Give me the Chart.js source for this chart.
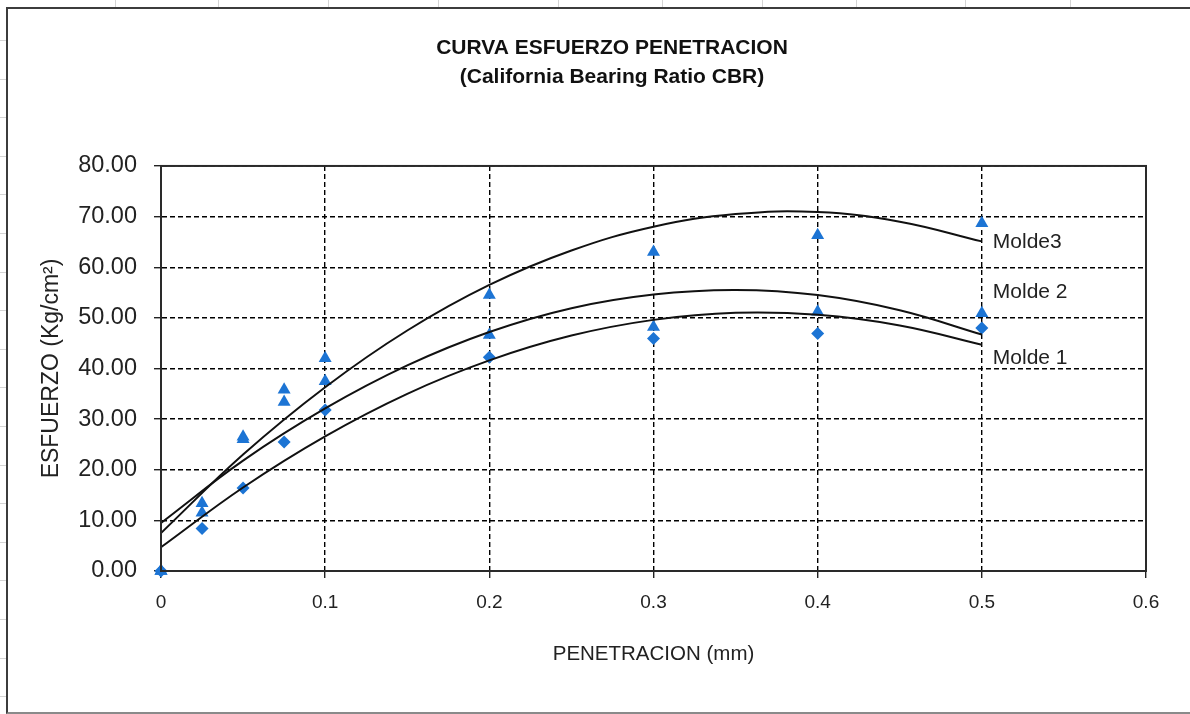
<!DOCTYPE html>
<html lang="es">
<head>
  <meta charset="UTF-8">
  <title>Curva Esfuerzo Penetracion</title>
  <script src="https://cdn.jsdelivr.net/npm/chart.js"></script>
  <style>
    body { margin: 0; background: #fff; }
    #hoja { position: relative; width: 1190px; height: 714px; overflow: hidden; }
    .col { position: absolute; top: 0; width: 1px; height: 7px; background: #d4d4d4; }
    .fila { position: absolute; left: 0; width: 6px; height: 1px; background: #d4d4d4; }
    #marco {
      position: absolute; left: 6px; top: 7px; width: 1200px; height: 703px;
      border-top: 2px solid #3c3c3c; border-left: 2px solid #3c3c3c; border-bottom: 2px solid #8a8a8a;
    }
    #cbrChart { position: absolute; left: 34px; top: 0; }
  </style>
</head>
<body>
  <div id="hoja">
    <div id="marco"></div>
    <canvas id="cbrChart" width="1156" height="714"></canvas>
  </div>

  <script>
    // penetracion (mm)
    const penetracion = [0, 0.025, 0.05, 0.075, 0.1, 0.2, 0.3, 0.4, 0.5];
    // esfuerzo (Kg/cm2) por molde
    const molde1 = [0, 8.4, 16.4, 25.5, 31.8, 42.2, 45.9, 46.9, 48.0];
    const molde2 = [0, 11.5, 26.0, 33.4, 37.5, 46.6, 48.2, 51.2, 50.9];
    const molde3 = [0, 13.4, 26.5, 35.8, 42.0, 54.5, 63.0, 66.3, 68.7];

    // lineas de tendencia
    const tendX = [0, 0.05, 0.1, 0.15, 0.2, 0.25, 0.3, 0.35, 0.4, 0.45, 0.5];
    const tend1 = [4.7, 16.5, 26.6, 35.0, 41.6, 46.5, 49.6, 51.0, 50.6, 48.5, 44.7];
    const tend2 = [9.5, 21.8, 32.1, 40.6, 47.2, 51.9, 54.6, 55.5, 54.5, 51.5, 46.7];
    const tend3 = [7.5, 23.0, 36.3, 47.5, 56.5, 63.3, 68.0, 70.5, 70.9, 69.0, 65.1];

    const nombres = ['Molde 1', 'Molde 2', 'Molde3'];
    const etiquetaY = [42, 55, 65];

    const xTicks = [0, 0.1, 0.2, 0.3, 0.4, 0.5, 0.6];
    const yTicks = [0, 10, 20, 30, 40, 50, 60, 70, 80];

    const azul = '#1c74d4';
    const fuente = "'Liberation Sans', Arial, sans-serif";

    // lineas de la hoja de calculo alrededor del grafico
    const hoja = document.getElementById('hoja');
    [115, 218, 328, 438, 558, 662, 762, 856, 965, 1070].forEach(x => {
      const d = document.createElement('div'); d.className = 'col'; d.style.left = x + 'px'; hoja.appendChild(d);
    });
    for (let y = 40; y < 714; y += 38.6) {
      const d = document.createElement('div'); d.className = 'fila'; d.style.top = Math.round(y) + 'px'; hoja.appendChild(d);
    }

    const pts = (xs, ys) => xs.map((x, i) => ({ x: x, y: ys[i] }));

    function serieTendencia(ys) {
      return { type: 'line', data: pts(tendX, ys), borderColor: '#111', borderWidth: 2,
               pointRadius: 0, tension: 0.4, fill: false, order: 0 };
    }
    function serieMarcas(ys, estilo, radio) {
      return { type: 'scatter', data: pts(penetracion, ys), backgroundColor: azul, borderColor: azul,
               borderWidth: 0, pointStyle: estilo, pointRadius: radio, clip: false, order: 1 };
    }

    // marco del area de trazado y nombres de cada curva
    const marcoPlugin = {
      id: 'marco',
      afterDraw(chart) {
        const { ctx, chartArea: a, scales } = chart;
        ctx.save();
        ctx.strokeStyle = '#2a2a2a';
        ctx.lineWidth = 2;
        ctx.strokeRect(a.left, a.top, a.right - a.left, a.bottom - a.top);
        ctx.fillStyle = '#222';
        ctx.font = '21px ' + fuente;
        ctx.textBaseline = 'middle';
        const x = scales.x.getPixelForValue(0.5) + 11;
        nombres.forEach((n, i) => ctx.fillText(n, x, scales.y.getPixelForValue(etiquetaY[i])));
        ctx.restore();
      }
    };

    new Chart(document.getElementById('cbrChart'), {
      data: {
        datasets: [
          serieTendencia(tend1), serieTendencia(tend2), serieTendencia(tend3),
          serieMarcas(molde1, 'rectRot', 6.5),
          serieMarcas(molde2, 'triangle', 7.5),
          serieMarcas(molde3, 'triangle', 7.5)
        ]
      },
      options: {
        responsive: false,
        animation: false,
        plugins: {
          legend: { display: false },
          tooltip: { enabled: false },
          title: {
            display: true,
            text: ['CURVA ESFUERZO PENETRACION', '(California Bearing Ratio CBR)'],
            color: '#111',
            font: { family: fuente, size: 21, weight: 'bold', lineHeight: 1.38 },
            padding: { top: 34, bottom: 74 }
          }
        },
        scales: {
          x: {
            type: 'linear', min: 0, max: 0.6,
            afterBuildTicks: s => { s.ticks = xTicks.map(v => ({ value: v })); },
            afterFit: s => { s.height = 143; },
            ticks: { color: '#222', padding: 13, font: { family: fuente, size: 19 },
                     callback: v => String(+v.toFixed(1)) },
            grid: { color: '#000', lineWidth: 1.4, tickLength: 7, tickColor: '#222' },
            border: { display: true, color: '#222', width: 2, dash: [5, 3] },
            title: { display: true, text: 'PENETRACION (mm)', color: '#222',
                     font: { family: fuente, size: 20.5, lineHeight: 1.2 }, padding: { top: 0, bottom: 47 } }
          },
          y: {
            type: 'linear', min: 0, max: 80,
            afterBuildTicks: s => { s.ticks = yTicks.map(v => ({ value: v })); },
            afterFit: s => { s.width = 127; },
            ticks: { color: '#222', padding: 17, font: { family: fuente, size: 23.5 },
                     callback: v => v.toFixed(2) },
            grid: { color: '#000', lineWidth: 1.4, tickLength: 7, tickColor: '#222' },
            border: { display: true, color: '#222', width: 2, dash: [5, 3] },
            title: { display: true, text: 'ESFUERZO (Kg/cm²)', color: '#222',
                     font: { family: fuente, size: 23, lineHeight: 1.2 }, padding: { top: 4, bottom: 0 } }
          },
          yDer: {
            type: 'linear', position: 'right', min: 0, max: 80,
            afterFit: s => { s.width = 44; },
            ticks: { display: false },
            grid: { display: false },
            border: { display: false }
          }
        }
      },
      plugins: [marcoPlugin]
    });
  </script>
</body>
</html>
